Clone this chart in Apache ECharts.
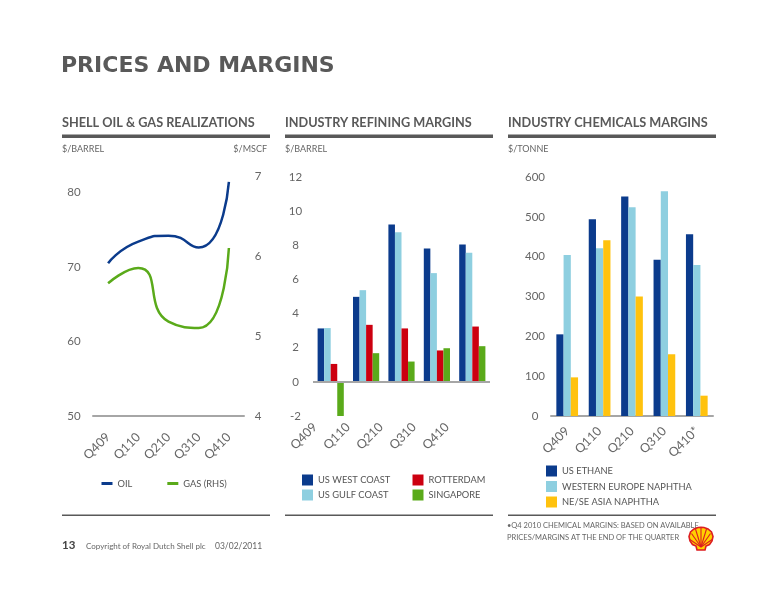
<!DOCTYPE html>
<html>
<head>
<meta charset="utf-8">
<script src="https://cdn.jsdelivr.net/npm/echarts/dist/echarts.min.js"></script>
<style>
  html, body { margin: 0; padding: 0; background: #fff; }
  #chart { width: 776px; height: 600px; }
</style>
</head>
<body>
<div id="chart"></div>
<script>
// quarters on the x axes
const quarters = ['Q409', 'Q110', 'Q210', 'Q310', 'Q410'];
const chemQuarters = ['Q409', 'Q110', 'Q210', 'Q310', 'Q410*'];

// shell oil & gas realizations
const oil = [70.5, 73.4, 74.2, 72.6, 81.4];      // $/barrel
const gas = [5.66, 5.85, 5.18, 5.10, 6.10];      // $/mscf (rhs)

// industry refining margins, $/barrel
const usWestCoast = [3.13, 4.98, 9.22, 7.81, 8.05];
const usGulfCoast = [3.15, 5.37, 8.77, 6.37, 7.56];
const rotterdam = [1.05, 3.34, 3.13, 1.84, 3.24];
const singapore = [-2.05, 1.68, 1.19, 1.97, 2.09];

// industry chemicals margins, $/tonne
const usEthane = [205, 494, 551, 392, 456];
const weNaphtha = [404, 421, 524, 564, 379];
const asiaNaphtha = [97, 441, 300, 155, 51];

const FONT = 'Lato';
const GREY = '#595959';
const TXT = '#666';
const AXIS = '#a6a6a6';

const c = {
  navy: '#0b3b8c',
  sky: '#8ecfe0',
  red: '#cc0010',
  green: '#5aaa1a',
  yellow: '#ffc20e'
};

const chart = echarts.init(document.getElementById('chart'));

function valAxis(grid, min, max, interval, margin, extra) {
  return Object.assign({
    type: 'value', gridIndex: grid, min: min, max: max, interval: interval,
    axisLine: { show: false }, axisTick: { show: false }, splitLine: { show: false },
    axisLabel: { color: TXT, fontSize: 11.5, fontFamily: FONT, align: 'center', margin: margin, showMaxLabel: max % interval === 0 }
  }, extra || {});
}

function catAxis(grid, data, margin, extra) {
  return Object.assign({
    type: 'category', gridIndex: grid, data: data, boundaryGap: true,
    axisTick: { show: false },
    axisLine: { lineStyle: { color: AXIS, width: 2 } },
    axisLabel: { color: TXT, fontSize: 12.5, fontFamily: FONT, rotate: 45, margin: margin, interval: 0 }
  }, extra || {});
}

function txt(x, y, s, font, fill, align) {
  return { type: 'text', x: x, y: y, silent: true,
    style: { text: s, font: font, fill: fill || TXT, align: align || 'left', verticalAlign: 'middle' } };
}

function box(x, y, w, h, fill) {
  return { type: 'rect', silent: true, shape: { x: x, y: y, width: w, height: h }, style: { fill: fill } };
}

// static text and rules
const headers = [
  { x: 62, w: 208, title: 'SHELL OIL & GAS REALIZATIONS' },
  { x: 285, w: 208, title: 'INDUSTRY REFINING MARGINS' },
  { x: 508, w: 208, title: 'INDUSTRY CHEMICALS MARGINS' }
];

const graphic = [txt(61, 66, 'PRICES AND MARGINS', 'bold 22px "DejaVu Sans"', GREY)];
headers.forEach(function (h) {
  graphic.push(txt(h.x, 123, h.title, 'bold 12.7px ' + FONT, GREY));
  graphic.push(box(h.x, 134.5, h.w, 3.5, GREY));
  graphic.push(box(h.x, 514.5, h.w, 1.5, GREY));
});
graphic.push(
  txt(62, 149, '$/BARREL', '9px ' + FONT),
  txt(267, 149, '$/MSCF', '9px ' + FONT, TXT, 'right'),
  txt(285, 149, '$/BARREL', '9px ' + FONT),
  txt(508, 149, '$/TONNE', '9px ' + FONT),
  txt(507, 526, '\u2022Q4 2010 CHEMICAL MARGINS: BASED ON AVAILABLE', '7.5px ' + FONT),
  txt(507, 538, 'PRICES/MARGINS AT THE END OF THE QUARTER', '7.5px ' + FONT),
  txt(62, 545, '13', 'bold 11.5px ' + FONT, '#444'),
  txt(86, 546, 'Copyright of Royal Dutch Shell plc', '8px ' + FONT),
  txt(215, 546, '03/02/2011', '8.5px ' + FONT)
);

// shell pecten (decoration)
const pecten = [[8, 23], [16, 23], [17, 19], [20.5, 17.5], [23, 14], [24, 9.5], [22.5, 5], [19, 2], [15, 0.5],
  [12, 0.3], [9, 0.5], [5, 2], [1.5, 5], [0, 9.5], [1, 14], [3.5, 17.5], [7, 19]];
const ribs = [[12, 1], [6.5, 2], [17.5, 2], [2.5, 6.5], [21.5, 6.5], [0.8, 12.5], [23.2, 12.5]];
const pectenKids = [{ type: 'polygon', shape: { points: pecten }, style: { fill: '#ffd100', stroke: '#dd1d21', lineWidth: 1.6 } }];
ribs.forEach(function (p) {
  pectenKids.push({ type: 'line', shape: { x1: 12, y1: 20, x2: p[0], y2: p[1] }, style: { stroke: '#dd1d21', lineWidth: 1.1 } });
});
graphic.push({ type: 'group', x: 689, y: 527, silent: true, children: pectenKids });

const legendText = { color: '#555', fontSize: 9.3, fontFamily: FONT };
const legendBase = { padding: 0, icon: 'rect', itemWidth: 11, itemHeight: 11, textStyle: legendText, selectedMode: false };

const option = {
  animation: false,
  backgroundColor: '#fff',
  graphic: { elements: graphic },
  legend: [
    Object.assign({}, legendBase, { data: ['OIL', 'GAS (RHS)'], left: 101.5, top: 479, itemHeight: 3, itemGap: 35 }),
    Object.assign({}, legendBase, { data: ['US WEST COAST', 'US GULF COAST'], orient: 'vertical', left: 302, top: 474.5, itemGap: 4 }),
    Object.assign({}, legendBase, { data: ['ROTTERDAM', 'SINGAPORE'], orient: 'vertical', left: 412.5, top: 474.5, itemGap: 4 }),
    Object.assign({}, legendBase, { data: ['US ETHANE', 'WESTERN EUROPE NAPHTHA', 'NE/SE ASIA NAPHTHA'], orient: 'vertical',
      left: 546, top: 465.5, itemGap: 4.5 })
  ],
  grid: [
    { left: 93, top: 176, width: 151, height: 240 },
    { left: 313, top: 177, width: 177, height: 239 },
    { left: 298.5, top: 177, width: 165, height: 239 },
    { left: 551, top: 177, width: 162, height: 239 }
  ],
  xAxis: [
    catAxis(0, quarters, 19),
    catAxis(1, quarters, 6, { axisLine: { show: false }, axisLabel: { show: false } }),
    catAxis(2, quarters, 9, { axisLine: { show: false } }),
    catAxis(3, chemQuarters, 13)
  ],
  yAxis: [
    valAxis(0, 50, 82.2, 10, 19),
    valAxis(0, 4, 7, 1, 14, { position: 'right' }),
    valAxis(1, -2, 12, 2, 17.5),
    valAxis(2, -2, 12, 2, 0, { show: false }),
    valAxis(3, 0, 600, 100, 16)
  ],
  series: [
    { name: 'OIL', type: 'line', xAxisIndex: 0, yAxisIndex: 0, data: oil, smooth: 0.6,
      showSymbol: false, color: c.navy, lineStyle: { width: 2.5 } },
    { name: 'GAS (RHS)', type: 'line', xAxisIndex: 0, yAxisIndex: 1, data: gas, smooth: 0.6,
      showSymbol: false, color: c.green, lineStyle: { width: 2.5 } },

    { name: 'US WEST COAST', type: 'bar', xAxisIndex: 1, yAxisIndex: 2, data: usWestCoast, color: c.navy,
      barGap: '0%', barCategoryGap: '26%',
      markLine: { silent: true, symbol: 'none', label: { show: false },
        lineStyle: { color: AXIS, width: 2, type: 'solid' }, data: [{ yAxis: 0 }] } },
    { name: 'US GULF COAST', type: 'bar', xAxisIndex: 1, yAxisIndex: 2, data: usGulfCoast, color: c.sky,
      barGap: '0%', barCategoryGap: '26%' },
    { name: 'ROTTERDAM', type: 'bar', xAxisIndex: 1, yAxisIndex: 2, data: rotterdam, color: c.red,
      barGap: '0%', barCategoryGap: '26%' },
    { name: 'SINGAPORE', type: 'bar', xAxisIndex: 1, yAxisIndex: 2, data: singapore, color: c.green,
      barGap: '0%', barCategoryGap: '26%' },

    { name: 'US ETHANE', type: 'bar', xAxisIndex: 3, yAxisIndex: 4, data: usEthane, color: c.navy,
      barGap: '0%', barCategoryGap: '33%' },
    { name: 'WESTERN EUROPE NAPHTHA', type: 'bar', xAxisIndex: 3, yAxisIndex: 4, data: weNaphtha, color: c.sky,
      barGap: '0%', barCategoryGap: '33%' },
    { name: 'NE/SE ASIA NAPHTHA', type: 'bar', xAxisIndex: 3, yAxisIndex: 4, data: asiaNaphtha, color: c.yellow,
      barGap: '0%', barCategoryGap: '33%' }
  ]
};

chart.setOption(option);
</script>
</body>
</html>
